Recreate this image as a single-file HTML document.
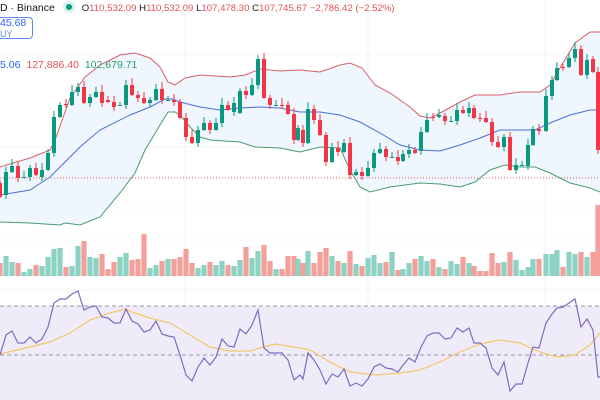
<!DOCTYPE html>
<html><head><meta charset="utf-8"><style>
html,body{margin:0;padding:0;background:#fff;width:600px;height:400px;overflow:hidden;font-family:"Liberation Sans",sans-serif}
svg{position:absolute;left:0;top:0}
.t{position:absolute;font-size:10px;white-space:nowrap}
</style></head><body>
<svg id="s" width="600" height="400" viewBox="0 0 600 400"></svg>
<div class="t" style="left:0;top:1px;color:#131722;font-size:10.5px">D · Binance <span style="display:inline-block;width:12px;height:12px;border-radius:6px;background:#d9f0ea;vertical-align:-2px;margin-left:5px;position:relative"><span style="position:absolute;left:3px;top:3px;width:6px;height:6px;border-radius:3px;background:#089981"></span></span>
<span style="font-size:9.6px"><span style="color:#131722;margin-left:4px">O</span><span style="color:#e0525a">110,532.09</span> <span style="color:#131722">H</span><span style="color:#e0525a">110,532.09</span> <span style="color:#131722">L</span><span style="color:#e0525a">107,478.30</span> <span style="color:#131722">C</span><span style="color:#e0525a">107,745.67</span> <span style="color:#e0525a">−2,786.42 (−2.52%)</span></span></div>
<div style="position:absolute;left:-6px;top:17px;width:37px;height:20px;border:1px solid #5b8def;border-radius:4px;background:#fff"></div>
<div class="t" style="left:0;top:18px;color:#2962ff;font-size:10.5px;line-height:11px">45.68<br><span style="font-size:9px;color:#5b8def">UY</span></div>
<div class="t" style="left:0;top:59px;color:#2962ff;font-size:10.5px">5.06 <span style="color:#e0525a;margin-left:3px">127,886.40</span> <span style="color:#22a06b;margin-left:3px">102,679.71</span></div>
<script>
const NS="http://www.w3.org/2000/svg",S=document.getElementById('s');
function el(n,a){const e=document.createElementNS(NS,n);for(const k in a)e.setAttribute(k,a[k]);S.appendChild(e);return e;}
[185,368,545].forEach(x=>el('line',{x1:x,y1:0,x2:x,y2:400,stroke:'#f0f2f5','stroke-width':1}));
[54,147,208,240,290].forEach(y=>el('line',{x1:0,y1:y,x2:600,y2:y,stroke:'#f3f4f6','stroke-width':1}));
el('rect',{x:0,y:306,width:600,height:94,fill:'#efebf8'});
el('line',{x1:0,y1:306,x2:600,y2:306,stroke:'#9a9aa8','stroke-dasharray':'4 3','stroke-width':1});
el('line',{x1:0,y1:355,x2:600,y2:355,stroke:'#9a9aa8','stroke-dasharray':'4 3','stroke-width':1});
const up=[[0,167],[30,158],[50,150],[55,140],[70,98],[85,77],[100,65],[120,55],[135,53],[150,58],[160,67],[168,82],[175,85],[185,78],[200,75],[230,77],[245,75],[260,69],[280,71],[300,70],[320,72],[340,65],[350,63],[362,68],[375,85],[390,93],[410,107],[420,116],[430,118],[440,113],[460,102],[475,95],[500,95],[520,92],[540,92],[550,85],[560,68],[575,43],[590,32],[600,32]];
const mid=[[0,195],[30,190],[50,177],[60,167],[80,147],[100,130],[130,115],[150,107],[165,99],[172,99],[180,102],[200,107],[220,110],[240,108],[260,107],[280,108],[300,112],[320,112],[340,115],[360,122],[380,133],[400,145],[420,150],[440,151],[460,145],[480,138],[500,130],[520,130],[535,130],[550,123],[570,115],[590,110],[600,110]];
const lo=[[0,222],[30,223],[60,225],[65,223],[80,225],[100,217],[120,193],[135,173],[145,150],[160,125],[168,112],[175,112],[180,115],[190,127],[200,137],[210,140],[240,142],[255,147],[280,148],[300,152],[320,147],[340,148],[350,170],[360,187],[370,192],[390,187],[420,183],[440,184],[460,187],[475,182],[490,170],[505,165],[520,167],[535,167],[550,173],[570,183],[590,188],[600,192]];
const P=a=>a.map(p=>p.join(',')).join(' ');
el('polygon',{points:P(up)+' '+P(lo.slice().reverse()),fill:'#f0f6fd'});
el('line',{x1:0,y1:178,x2:600,y2:178,stroke:'#e0525a','stroke-dasharray':'1 2','stroke-width':1});
el('polyline',{points:P(up),fill:'none',stroke:'#d9606a','stroke-width':1});
el('polyline',{points:P(mid),fill:'none',stroke:'#4a6fd6','stroke-width':1});
el('polyline',{points:P(lo),fill:'none',stroke:'#4a9a72','stroke-width':1});
const C=[[0,183,197],[6,195,172],[12,172,166],[18,166,178],[24,177,177],[30,177,168],[36,168,175],[42,177,170],[48,170,153],[54,153,117],[60,117,105],[66,104,104],[72,105,92],[78,92,87],[84,87,103],[90,103,97],[96,97,92],[102,92,103],[108,100,102],[114,102,107],[120,105,105],[126,105,85],[132,85,95],[138,95,98],[144,98,103],[150,103,100],[156,100,89],[162,89,100],[168,100,100],[174,100,102],[180,102,118],[186,118,137],[192,137,143],[198,143,130],[204,130,123],[210,123,130],[216,130,123],[222,123,105],[228,105,110],[234,112,103],[240,113,91],[246,91,95],[252,95,85],[258,85,59],[264,59,98],[270,98,105],[276,105,105],[282,105,105],[288,105,114],[294,114,140],[298,140,128],
[303,130,143],[308,143,109],[314,109,120],[320,120,135],[326,135,162],[332,162,148],[338,148,152],[344,152,143],[350,143,175],[356,175,172],[362,172,176],[368,176,168],[374,168,153],[380,153,149],[386,149,157],[392,157,157],[398,157,161],[403,161,154],[409,154,150],[415,150,153],[421,151,132],[427,132,120],[433,117,117],[439,117,115],[445,116,121],[451,121,121],[457,121,110],[463,110,113],[469,113,108],[474,108,118],[480,118,118],[486,118,122],[492,122,142],[498,142,147],[504,147,137],[510,137,170],[516,170,165],[522,165,165],[528,166,145],[533,145,129],[539,129,131],[546,131,96],[552,96,80],[557,80,68],[563,67,67],[569,67,58],[575,58,49],[581,49,75],[587,75,60],[593,59,72],[598,72,150]];
const V=[263,256,262,263,272,269,265,266,257,249,248,267,266,246,241,257,258,254,269,262,257,253,260,259,234,268,265,261,259,259,257,249,263,268,265,262,265,261,265,266,260,247,258,251,245,261,269,269,256,256,259,
263,251,263,252,248,256,261,263,251,264,266,258,255,263,262,252,270,269,263,259,256,261,259,267,269,261,264,257,263,266,271,271,253,263,262,252,260,270,267,259,259,254,254,250,267,252,254,252,257,252,205];
C.forEach((c,i)=>{const [x,o,cl]=c;const g=cl<o||(cl==o&&i%2==0);const col=g?'#089981':'#f23645';
 const v=V[i]||262;el('rect',{x:x-2.6,y:v,width:5.2,height:276-v,fill:g?'#8dd3c4':'#f4a09a'});
 const t=Math.min(o,cl),b=Math.max(o,cl);const w=3+(i*7%5);
 el('line',{x1:x,y1:t-w,x2:x,y2:b+(i*3%6)+1,stroke:col,'stroke-width':1});
 el('rect',{x:x-2,y:t,width:4,height:Math.max(1,b-t),fill:col});});
const R=[[0,355],[6,335],[12,331],[18,343],[24,343],[30,337],[36,343],[42,339],[48,327],[54,303],[60,299],[66,299],[72,294],[78,291],[84,310],[90,307],[96,306],[102,317],[108,318],[114,323],[120,323],[126,309],[132,321],[138,324],[144,332],[150,330],[156,321],[162,334],[168,336],[174,337],[180,355],[186,375],[192,381],[198,367],[204,358],[210,365],[216,357],[222,339],[228,346],[234,347],[240,329],[246,334],[252,325],[258,310],[264,348],[270,353],[276,353],[282,353],[288,360],[294,380],[300,375],[303,379],[308,353],[314,360],[320,370],[326,384],[332,374],[338,377],[344,369],[350,386],[356,383],[362,386],[368,379],[374,367],[380,364],[386,368],[392,369],[398,372],[403,365],[409,358],[415,362],[421,347],[427,336],[433,333],[439,333],[445,339],[451,338],[457,328],[463,332],[469,328],[474,343],[480,343],[486,348],[492,368],[498,375],[504,362],[510,391],[516,384],[522,384],[528,363],[533,347],[539,348],[546,323],[552,314],[557,308],[563,307],[569,303],[575,299],[581,327],[587,319],[593,330],[598,377],[600,377]];
const M=[[0,354],[30,347],[50,342],[70,333],[90,320],[110,313],[125,309],[135,313],[150,318],[170,323],[190,335],[210,347],[230,351],[250,351],[260,348],[275,344],[300,348],[310,350],[330,362],[350,372],[375,375],[400,373],[420,370],[440,362],[460,352],[480,344],[500,340],[520,343],[540,352],[557,357],[575,355],[590,345],[600,333]];
el('polyline',{points:P(M),fill:'none',stroke:'#f2c96a','stroke-width':1.2});
el('polyline',{points:P(R),fill:'none',stroke:'#7e6bc4','stroke-width':1.2});
</script>
</body></html>
